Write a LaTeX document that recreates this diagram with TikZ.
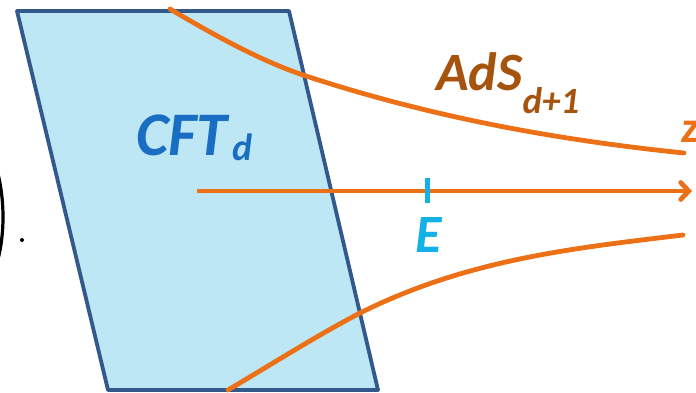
\documentclass[tikz,border=0pt]{standalone}
\usepackage{fontspec}
\setmainfont{Carlito}
\usetikzlibrary{arrows.meta}
\definecolor{cftfill}{RGB}{190,231,245}
\definecolor{cftedge}{RGB}{50,88,140}
\definecolor{orng}{RGB}{236,112,22}
\definecolor{adsbrown}{RGB}{166,83,13}
\definecolor{cftblue}{RGB}{25,110,195}
\definecolor{ecyan}{RGB}{20,176,232}
\tikzset{
  bulk/.style={orng, line width=4.8pt, line cap=round},
  lbl/.style={inner sep=0pt, anchor=base west, font=\bfseries\itshape},
}
\begin{document}
\begin{tikzpicture}[x=1pt,y=-1pt]
\useasboundingbox (0,0) rectangle (696,392);
% boundary plane
\coordinate (p1) at (17,11);
\coordinate (p2) at (289,11);
\coordinate (p3) at (378,390);
\coordinate (p4) at (108,390);
\filldraw[fill=cftfill, draw=cftedge, line width=3.8pt, line join=round] (p1) -- (p2) -- (p3) -- (p4) -- cycle;
% bulk curves
\coordinate (u0) at (170,9);
\coordinate (u1) at (303,75);
\coordinate (u2) at (684,153);
\draw[bulk] (u0) .. controls (214,35) and (259,60) .. (u1) .. controls (430,117) and (557,140) .. (u2);
\coordinate (l0) at (228,390);
\coordinate (l1) at (360,313);
\coordinate (l2) at (683,235);
\draw[bulk] (l0) .. controls (272,364) and (316,336) .. (l1) .. controls (468,259) and (575,248) .. (l2);
% radial axis
\coordinate (a0) at (197,191);
\coordinate (a1) at (692,191);
\draw[orng, line width=4.8pt, -{Straight Barb[length=8pt,width=17pt,line cap=round]}] (a0) -- (a1);
% energy tick
\coordinate (t0) at (427,178);
\coordinate (t1) at (427,203);
\draw[ecyan, line width=5pt] (t0) -- (t1);
% labels
\node[lbl, text=cftblue, font=\bfseries\itshape\fontsize{62}{62}\selectfont] (cft) at (136,155) {CFT\kern5pt{\fontsize{38}{38}\selectfont\raisebox{-5pt}{d}}};
\node[lbl, text=adsbrown, font=\bfseries\itshape\fontsize{54}{54}\selectfont] (ads) at (436,90) {AdS{\fontsize{37}{37}\selectfont\raisebox{-23pt}{d+1}}};
\node[inner sep=0pt, anchor=base, text=ecyan, font=\bfseries\itshape\fontsize{54}{54}\selectfont] (e) at (429,252) {E};
\node[lbl, text=orng, font=\bfseries\itshape\fontsize{44}{44}\selectfont] (z) at (681,142) {z};
% left parenthesis fragment and dot
\coordinate (b0) at (-6,160);
\coordinate (b1) at (-6,272);
\draw[black, line width=3.2pt] (b0) .. controls (6,195) and (6,240) .. (b1);
\coordinate (dot) at (22,240);
\fill[black] (dot) circle (2);
\end{tikzpicture}
\end{document}
